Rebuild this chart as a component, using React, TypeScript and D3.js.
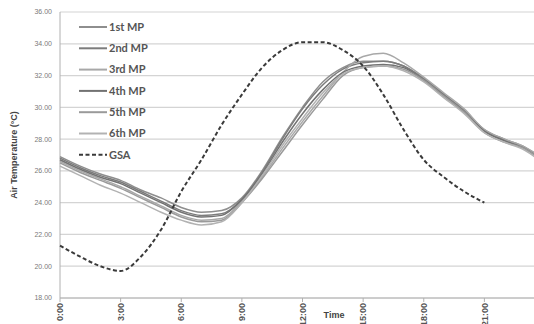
import * as d3 from 'd3';

const W = 534;
const H = 324;

// hours 0..24
const hours = d3.range(0, 25);

const mp1 = [26.9, 26.3, 25.8, 25.4, 24.8, 24.3, 23.7, 23.4, 23.5, 24.3, 26.0, 28.1, 30.0, 31.6, 32.5, 32.9, 32.9, 32.6, 31.8, 30.8, 29.8, 28.6, 28.0, 27.5, 26.6];
const mp2 = [26.8, 26.2, 25.7, 25.3, 24.7, 24.1, 23.5, 23.2, 23.3, 24.2, 25.9, 28.0, 29.9, 31.4, 32.4, 32.8, 32.9, 32.6, 31.8, 30.8, 29.8, 28.5, 27.9, 27.4, 26.6];
const mp3 = [26.6, 26.0, 25.5, 25.0, 24.4, 23.8, 23.2, 22.9, 23.0, 24.1, 25.6, 27.4, 29.1, 30.7, 32.2, 33.2, 33.4, 32.8, 31.9, 30.9, 29.9, 28.6, 28.0, 27.5, 26.7];
const mp4 = [26.7, 26.1, 25.6, 25.2, 24.6, 24.0, 23.4, 23.1, 23.2, 24.2, 25.8, 27.8, 29.6, 31.1, 32.2, 32.6, 32.7, 32.5, 31.7, 30.7, 29.7, 28.5, 27.9, 27.4, 26.5];
const mp5 = [26.5, 25.9, 25.4, 24.9, 24.3, 23.7, 23.1, 22.8, 22.9, 24.0, 25.5, 27.2, 28.9, 30.5, 32.0, 32.5, 32.6, 32.4, 31.7, 30.7, 29.7, 28.4, 27.8, 27.4, 26.5];
const mp6 = [26.3, 25.7, 25.1, 24.6, 24.0, 23.4, 22.9, 22.6, 22.8, 24.0, 25.7, 27.6, 29.3, 30.9, 32.1, 32.5, 32.6, 32.3, 31.6, 30.6, 29.6, 28.4, 27.8, 27.3, 26.4];

// GSA hours 0..21
const gsaHours = d3.range(0, 22);
const gsa = [21.3, 20.6, 20.0, 19.7, 20.6, 22.3, 24.7, 26.7, 28.9, 30.8, 32.5, 33.6, 34.1, 34.1, 33.6, 32.6, 30.8, 28.6, 26.7, 25.6, 24.7, 24.0];

const seriesNames = ['1st MP', '2nd MP', '3rd MP', '4th MP', '5th MP', '6th MP'];
const seriesData = [mp1, mp2, mp3, mp4, mp5, mp6];
const seriesColors = ['#8e8e8e', '#7c7c7c', '#a8a8a8', '#727272', '#9a9a9a', '#b2b2b2'];

const yTicks = [18, 20, 22, 24, 26, 28, 30, 32, 34, 36];
const xTicks = [0, 3, 6, 9, 12, 15, 18, 21];
const xTickLabels = ['0:00', '3:00', '6:00', '9:00', '12:00', '15:00', '18:00', '21:00'];

export default function App() {
  const x = d3.scaleLinear().domain([0, 24]).range([60, 545]);
  const y = d3.scaleLinear().domain([18, 36]).range([298, 12]);

  const line = d3.line<number>()
    .x((_, i) => x(hours[i]))
    .y((d) => y(d))
    .curve(d3.curveMonotoneX);

  const gsaLine = d3.line<number>()
    .x((_, i) => x(gsaHours[i]))
    .y((d) => y(d))
    .curve(d3.curveMonotoneX);

  const legendY = (i: number) => 27 + i * 21.3;

  return (
    <svg
      width={W}
      height={H}
      style={{ position: 'fixed', left: 0, top: 0, background: '#fff' }}
      fontFamily="'Liberation Sans', Arial, sans-serif"
    >
      <rect width={W} height={H} fill="#fff" />

      {/* grid */}
      {yTicks.map((t) => (
        <g key={t}>
          <line x1={60} x2={W} y1={y(t)} y2={y(t)} stroke="#d4d4d4" strokeWidth={1.2} />
          <text x={52} y={y(t)} dy="0.35em" textAnchor="end" fontSize={7} fill="#7a7a7a">
            {t.toFixed(2)}
          </text>
        </g>
      ))}

      {/* axes */}
      <line x1={60} x2={60} y1={12} y2={298} stroke="#b0b0b0" strokeWidth={1} />
      <line x1={60} x2={W} y1={298} y2={298} stroke="#b0b0b0" strokeWidth={1} />
      {xTicks.map((t, i) => (
        <g key={t}>
          <line x1={x(t)} x2={x(t)} y1={298} y2={302} stroke="#b0b0b0" />
          <text
            transform={`translate(${x(t)},303) rotate(-90)`}
            dy="0.35em"
            textAnchor="end"
            fontSize={9}
            fontWeight="bold"
            fill="#555"
          >
            {xTickLabels[i]}
          </text>
        </g>
      ))}

      <text x={334} y={318} textAnchor="middle" fontSize={9} fontWeight="bold" fill="#444">
        Time
      </text>
      <text
        transform="translate(17,155) rotate(-90)"
        textAnchor="middle"
        fontSize={9}
        fontWeight="bold"
        fill="#444"
      >
        Air Temperature (°C)
      </text>

      {/* series */}
      {seriesData.map((d, i) => (
        <path key={i} d={line(d) || ''} fill="none" stroke={seriesColors[i]} strokeWidth={1.5} />
      ))}
      <path d={gsaLine(gsa) || ''} fill="none" stroke="#3a3a3a" strokeWidth={2} strokeDasharray="4 2.5" />

      {/* legend */}
      {seriesNames.map((n, i) => (
        <g key={n}>
          <line x1={79} x2={107} y1={legendY(i)} y2={legendY(i)} stroke={seriesColors[i]} strokeWidth={2} />
          <text x={109} y={legendY(i)} dy="0.35em" fontSize={11} fontWeight="bold" fill="#555" fontFamily="Lato, sans-serif">
            {n}
          </text>
        </g>
      ))}
      <line x1={79} x2={107} y1={legendY(6)} y2={legendY(6)} stroke="#3a3a3a" strokeWidth={2} strokeDasharray="4 2.5" />
      <text x={109} y={legendY(6)} dy="0.35em" fontSize={11} fontWeight="bold" fill="#555" fontFamily="Lato, sans-serif">
        GSA
      </text>
    </svg>
  );
}
